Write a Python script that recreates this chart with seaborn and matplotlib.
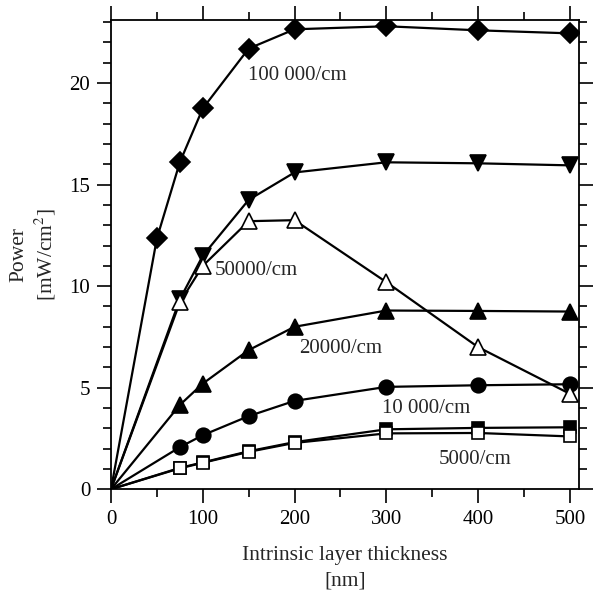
import matplotlib

matplotlib.use("Agg")

import matplotlib.pyplot as plt
import seaborn as sns
from matplotlib.ticker import MultipleLocator

thickness = [0, 50, 75, 100, 150, 200, 300, 400, 500]
thickness_short = [0, 75, 100, 150, 200, 300, 400, 500]

p_100000 = [0, 12.35, 16.1, 18.75, 21.7, 22.65, 22.8, 22.6, 22.45]
p_50000_fill = [0, 9.35, 11.5, 14.25, 15.6, 16.1, 16.05, 15.95]
p_50000_open = [0, 9.2, 11.0, 13.2, 13.25, 10.2, 7.0, 4.7]
p_20000 = [0, 4.15, 5.2, 6.85, 8.0, 8.8, 8.78, 8.75]
p_10000 = [0, 2.07, 2.66, 3.6, 4.35, 5.04, 5.12, 5.17]
p_5000_fill = [0, 1.05, 1.32, 1.87, 2.32, 2.95, 3.02, 3.05]
p_5000_open = [0, 1.03, 1.3, 1.84, 2.28, 2.75, 2.77, 2.6]

curve_labels = ["100 000/cm", "50000/cm", "20000/cm", "10 000/cm", "5000/cm"]

sns.set_theme(style="ticks")
plt.rcParams["font.family"] = ["Liberation Serif", "DejaVu Serif"]
plt.rcParams["mathtext.fontset"] = "stix"

fig = plt.figure(figsize=(6, 5.93), dpi=100)
ax = fig.add_axes([0.185, 0.175, 0.78, 0.791])

series = [
    (thickness, p_100000, "D", "black", 10),
    (thickness_short, p_50000_fill, "v", "black", 11.5),
    (thickness_short, p_20000, "^", "black", 11),
    (thickness_short, p_10000, "o", "black", 10.5),
    (thickness_short, p_5000_fill, "s", "black", 8),
    (thickness_short, p_50000_open, "^", "white", 11),
    (thickness_short, p_5000_open, "s", "white", 8),
]
for xs, ys, mk, face, size in series:
    sns.lineplot(
        x=xs, y=ys, ax=ax, color="black", linewidth=1.6, marker=mk,
        markersize=size, markerfacecolor=face, markeredgecolor="black",
        markeredgewidth=1.2, markevery=slice(1, None), estimator=None, sort=False,
    )

label_pos = [(149, 20.15), (113, 10.55), (205, 6.7), (295, 3.75), (357, 1.23)]
for text, (lx, ly) in zip(curve_labels, label_pos):
    ax.text(lx, ly, text, fontsize=15)

ax.set_xlim(0, 510)
ax.set_ylim(0, 23.1)
ax.xaxis.set_major_locator(MultipleLocator(100))
ax.xaxis.set_minor_locator(MultipleLocator(50))
ax.yaxis.set_major_locator(MultipleLocator(5))
ax.yaxis.set_minor_locator(MultipleLocator(1))
ax.tick_params(which="both", direction="out", top=True, right=True, width=1.2,
               colors="black", labelsize=15, pad=5)
ax.tick_params(which="major", length=10)
ax.tick_params(which="minor", length=6)
for s in ax.spines.values():
    s.set_linewidth(1.3)
    s.set_color("black")

ax.set_xlabel("Intrinsic layer thickness\n[nm]", fontsize=15.5, labelpad=12,
              linespacing=1.5)
ax.set_ylabel("Power\n[mW/cm$^2$]", fontsize=15.5, labelpad=8, linespacing=1.25)

fig.savefig("out.png", dpi=100)
